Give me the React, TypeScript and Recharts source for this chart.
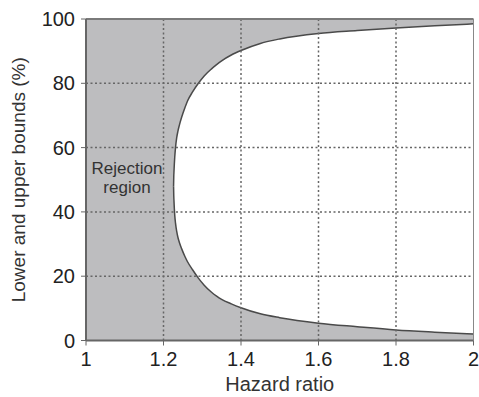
import React from 'react';
import { ComposedChart, Area, XAxis, YAxis, CartesianGrid, ReferenceLine } from 'recharts';

const hazardRatio = [1.226, 1.2265, 1.227, 1.228, 1.229, 1.231, 1.234, 1.237, 1.241, 1.247, 1.255, 1.262, 1.275, 1.29, 1.305, 1.324, 1.337, 1.35, 1.375, 1.4, 1.45, 1.5, 1.6, 1.7, 1.8, 1.9, 2.0];
const lowerBound = [48, 45, 43.5, 41, 39, 36.5, 34, 32.2, 30.5, 28.5, 26.2, 24.5, 22, 19.4, 17.2, 15, 13.8, 12.8, 11.4, 10.2, 8.3, 7.1, 5.4, 4.3, 3.3, 2.6, 2.0];
const upperBound = [48, 51, 52.5, 55, 57, 60, 63, 65, 67, 69.5, 72.3, 74.5, 77.3, 80, 82.3, 84.5, 85.8, 87, 88.8, 90.2, 92.4, 93.8, 95.5, 96.4, 97.2, 97.9, 98.5];
const xTicks = [1, 1.2, 1.4, 1.6, 1.8, 2];
const yTicks = [0, 20, 40, 60, 80, 100];
const xGrid = [1.2, 1.4, 1.6, 1.8];
const yGrid = [20, 40, 60, 80];

const data = hazardRatio.map((x, i) => ({ x, range: [lowerBound[i], upperBound[i]] }));

const FONT = 'Liberation Sans, Arial, Helvetica, sans-serif';

export default function App() {
  return (
    <div style={{ position: 'absolute', left: 0, top: 0, width: 479, height: 397, background: '#fff' }}>
      <ComposedChart width={479} height={397} data={data} margin={{ top: 19, right: 5.5, bottom: 0, left: 0 }}>
        <CartesianGrid horizontal={false} vertical={false} fill="#bdbdbf" fillOpacity={1} />
        <XAxis
          type="number"
          dataKey="x"
          domain={[1, 2]}
          ticks={xTicks}
          tickFormatter={(v: number) => String(v)}
          axisLine={{ stroke: '#666', strokeWidth: 2 }}
          tickLine={{ stroke: '#666' }}
          tickSize={5}
          tickMargin={6}
          tick={{ fill: '#222', fontSize: 20, fontFamily: FONT }}
          height={56.5}
          label={{ value: 'Hazard ratio', position: 'insideBottom', offset: 6, fill: '#333', fontSize: 20, fontFamily: FONT }}
        />
        <YAxis
          type="number"
          domain={[0, 100]}
          ticks={yTicks}
          axisLine={{ stroke: '#666', strokeWidth: 2 }}
          tickLine={{ stroke: '#666' }}
          tickSize={5}
          tickMargin={6}
          tick={{ fill: '#222', fontSize: 20, fontFamily: FONT }}
          width={86}
          label={{ value: 'Lower and upper bounds (%)', angle: -90, position: 'insideLeft', offset: 18, style: { textAnchor: 'middle' }, fill: '#333', fontSize: 19, fontFamily: FONT }}
        />
        <Area
          type="monotone"
          dataKey="range"
          fill="#ffffff"
          fillOpacity={1}
          stroke="#4a4a4a"
          strokeWidth={1.5}
          isAnimationActive={false}
          dot={false}
          activeDot={false}
        />
        {xGrid.map((v) => (
          <ReferenceLine key={'gx' + v} x={v} stroke="#666" strokeWidth={1.5} strokeDasharray="2 2.5" />
        ))}
        {yGrid.map((v) => (
          <ReferenceLine key={'gy' + v} y={v} stroke="#666" strokeWidth={1.5} strokeDasharray="2 2.5" />
        ))}
        <ReferenceLine y={100} stroke="#7a7a7a" strokeWidth={2} />
        <ReferenceLine x={2} stroke="#888" strokeWidth={1} />
      </ComposedChart>
      <div style={{ position: 'absolute', left: 86, top: 160, width: 82, textAlign: 'center', fontFamily: FONT, fontSize: 17, lineHeight: '18.5px', color: '#333' }}>
        Rejection<br />region
      </div>
    </div>
  );
}
